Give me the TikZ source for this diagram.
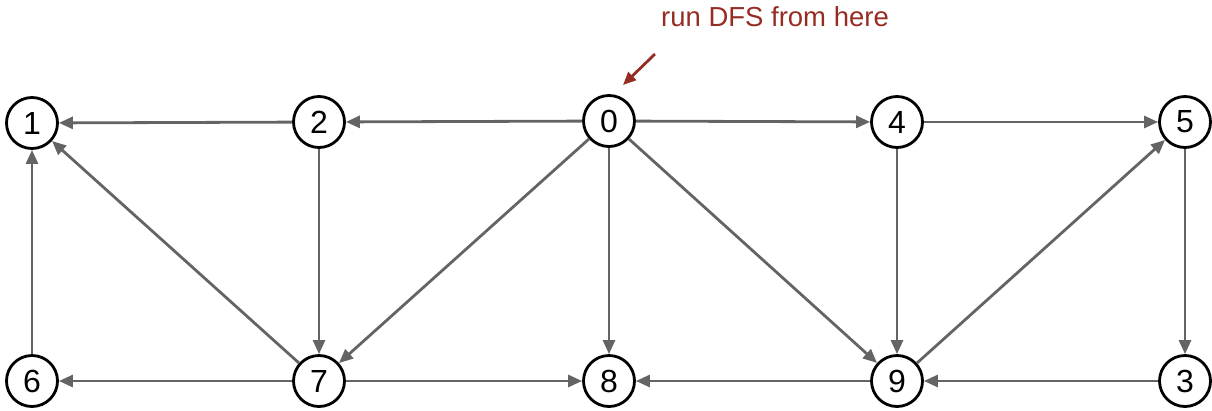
\documentclass[tikz,border=0pt]{standalone}
\usepackage{fontspec}
\setmainfont{Liberation Sans}
\usetikzlibrary{arrows.meta}
\definecolor{edgegray}{RGB}{100,100,100}
\definecolor{dfsred}{RGB}{150,45,35}
\begin{document}
\begin{tikzpicture}[x=1pt,y=-1pt,
  vtx/.style={circle,draw=black,line width=2.8pt,minimum size=51pt,inner sep=0pt,font=\fontsize{32}{32}\selectfont,fill=white},
  edge/.style={draw=edgegray,line width=2.8pt,-{Triangle[length=14pt,width=12pt]}}]
\useasboundingbox (0,0) rectangle (1212,410);
\node[vtx] (n1) at (32,123) {1};
\node[vtx] (n2) at (319,122) {2};
\node[vtx] (n0) at (609,121) {0};
\node[vtx] (n4) at (897,122) {4};
\node[vtx] (n5) at (1185,122) {5};
\node[vtx] (n6) at (32,381) {6};
\node[vtx] (n7) at (319,381) {7};
\node[vtx] (n8) at (609,381) {8};
\node[vtx] (n9) at (897,381) {9};
\node[vtx] (n3) at (1185,381) {3};
\draw[edge] (n2) -- (n1);
\draw[edge] (n0) -- (n2);
\draw[edge] (n0) -- (n4);
\draw[edge] (n4) -- (n5);
\draw[edge] (n2) -- (n7);
\draw[edge] (n7) -- (n1);
\draw[edge] (n6) -- (n1);
\draw[edge] (n0) -- (n7);
\draw[edge] (n0) -- (n8);
\draw[edge] (n0) -- (n9);
\draw[edge] (n4) -- (n9);
\draw[edge] (n9) -- (n5);
\draw[edge] (n5) -- (n3);
\draw[edge] (n7) -- (n6);
\draw[edge] (n7) -- (n8);
\draw[edge] (n9) -- (n8);
\draw[edge] (n3) -- (n9);
\node[text=dfsred,font=\fontsize{27.5}{27.5}\selectfont] (lbl) at (775,17) {run DFS from here};
\coordinate (astart) at (655,54);
\coordinate (aend) at (623,85);
\draw[draw=dfsred,line width=2.8pt,-{Triangle[length=13pt,width=11pt]}] (astart) -- (aend);
\end{tikzpicture}
\end{document}
